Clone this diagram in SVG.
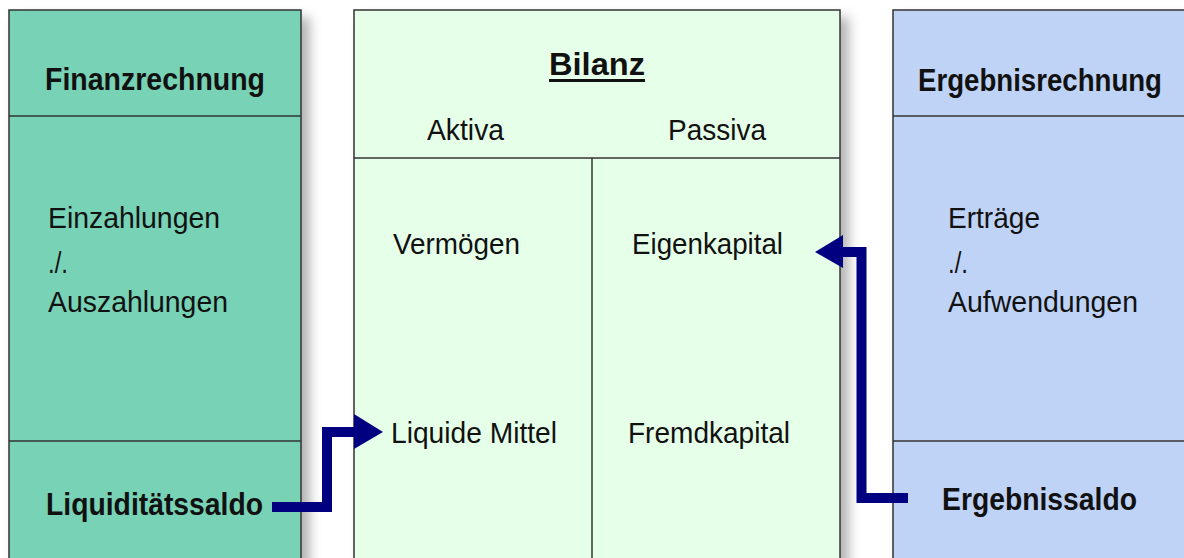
<svg xmlns="http://www.w3.org/2000/svg" width="1184" height="558" viewBox="0 0 1184 558">
  <defs>
    <filter id="sh" x="-10%" y="-10%" width="130%" height="130%">
      <feDropShadow dx="8" dy="8" stdDeviation="6" flood-color="#000" flood-opacity="0.3"/>
    </filter>
    <style>
      .box { stroke: #333; stroke-width: 1.5; }
      .ln { stroke: #333; stroke-width: 1.5; fill: none; }
      .t { font-family: "Liberation Sans", Arial, sans-serif; font-size: 30px; fill: #111; }
      .b { font-weight: bold; font-size: 31px; }
      .arr { stroke: #000080; stroke-width: 10; fill: none; stroke-linejoin: miter; }
      .head { fill: #000080; }
    </style>
  </defs>
  <rect width="1184" height="558" fill="#ffffff"/>

  <g id="finanzrechnung">
    <rect class="box" x="9" y="10" width="292" height="560" fill="#78D2B5" filter="url(#sh)"/>
    <line class="ln" x1="9" y1="116" x2="301" y2="116"/>
    <line class="ln" x1="9" y1="441" x2="301" y2="441"/>
    <text class="t b" x="45" y="90" textLength="220" lengthAdjust="spacingAndGlyphs">Finanzrechnung</text>
    <text class="t" x="48" y="228" textLength="172" lengthAdjust="spacingAndGlyphs">Einzahlungen</text>
    <text class="t" x="48" y="273" textLength="20" lengthAdjust="spacingAndGlyphs">./.</text>
    <text class="t" x="48" y="312" textLength="180" lengthAdjust="spacingAndGlyphs">Auszahlungen</text>
    <text class="t b" x="46" y="515" textLength="217" lengthAdjust="spacingAndGlyphs">Liquiditätssaldo</text>
  </g>

  <g id="bilanz">
    <rect class="box" x="354" y="10" width="486" height="560" fill="#E6FFE8" filter="url(#sh)"/>
    <line class="ln" x1="354" y1="158" x2="840" y2="158"/>
    <line class="ln" x1="592" y1="158" x2="592" y2="560"/>
    <text class="t b" x="549" y="75" textLength="96" lengthAdjust="spacingAndGlyphs">Bilanz</text>
    <line x1="549" y1="80.5" x2="645" y2="80.5" stroke="#111" stroke-width="3"/>
    <text class="t" x="427" y="140" textLength="77" lengthAdjust="spacingAndGlyphs">Aktiva</text>
    <text class="t" x="668" y="140" textLength="98" lengthAdjust="spacingAndGlyphs">Passiva</text>
    <text class="t" x="393" y="254" textLength="127" lengthAdjust="spacingAndGlyphs">Vermögen</text>
    <text class="t" x="632" y="254" textLength="151" lengthAdjust="spacingAndGlyphs">Eigenkapital</text>
    <text class="t" x="391" y="443" textLength="166" lengthAdjust="spacingAndGlyphs">Liquide Mittel</text>
    <text class="t" x="628" y="443" textLength="162" lengthAdjust="spacingAndGlyphs">Fremdkapital</text>
  </g>

  <g id="ergebnisrechnung">
    <rect class="box" x="893" y="10" width="320" height="560" fill="#BFD3F7" filter="url(#sh)"/>
    <line class="ln" x1="893" y1="116" x2="1190" y2="116"/>
    <line class="ln" x1="893" y1="441" x2="1190" y2="441"/>
    <text class="t b" x="918" y="91" textLength="244" lengthAdjust="spacingAndGlyphs">Ergebnisrechnung</text>
    <text class="t" x="948" y="228" textLength="92" lengthAdjust="spacingAndGlyphs">Erträge</text>
    <text class="t" x="948" y="273" textLength="20" lengthAdjust="spacingAndGlyphs">./.</text>
    <text class="t" x="948" y="312" textLength="190" lengthAdjust="spacingAndGlyphs">Aufwendungen</text>
    <text class="t b" x="942" y="510" textLength="195" lengthAdjust="spacingAndGlyphs">Ergebnissaldo</text>
  </g>

  <g id="connectors">
    <path class="arr" d="M272,507 H327 V432 H357"/>
    <polygon class="head" points="354,414 383,432 354,449"/>
    <path class="arr" d="M908,498 H861.5 V252 H840"/>
    <polygon class="head" points="843,235 815,252 843,268"/>
  </g>
</svg>
